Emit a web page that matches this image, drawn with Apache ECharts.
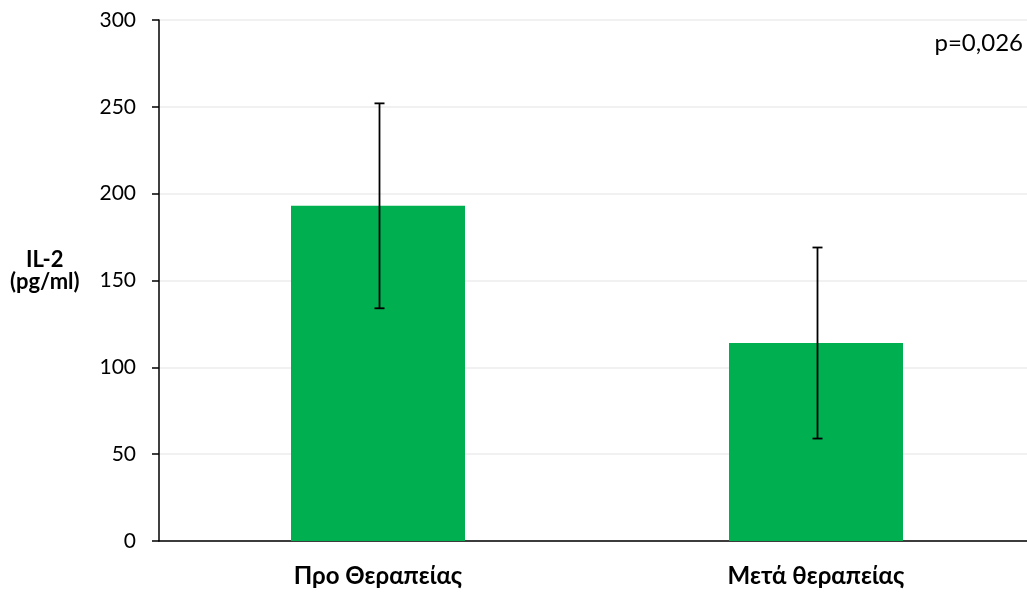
<!DOCTYPE html>
<html>
<head>
<meta charset="utf-8">
<script src="https://cdn.jsdelivr.net/npm/echarts@6/dist/echarts.min.js"></script>
<style>
  html, body { margin: 0; padding: 0; background: #ffffff; }
  #chart { width: 1027px; height: 594px; }
</style>
</head>
<body>
<div id="chart"></div>
<script>
// IL-2 levels before and after therapy (mean ± SD)
const categories = ['Προ Θεραπείας', 'Μετά θεραπείας'];
const meanValues = [193, 114];
const sdValues = [59, 55];
const yTicks = [0, 50, 100, 150, 200, 250, 300];

const FONT = "Lato, 'Noto Sans', 'DejaVu Sans', sans-serif";

const errorData = categories.map((c, i) => [i, meanValues[i] - sdValues[i], meanValues[i] + sdValues[i]]);

const chart = echarts.init(document.getElementById('chart'), null, { renderer: 'canvas' });

chart.setOption({
  animation: false,
  backgroundColor: '#ffffff',
  grid: {
    left: 159, width: 876, top: 20, bottom: 53,
    containLabel: false,
    outerBoundsMode: 'none'
  },
  xAxis: {
    type: 'category',
    data: categories,
    axisLine: { lineStyle: { color: '#000000', width: 1.5 } },
    axisTick: { show: false },
    axisLabel: {
      color: '#000000',
      fontFamily: FONT,
      fontWeight: 'bold',
      fontSize: 24,
      margin: 23
    }
  },
  yAxis: {
    type: 'value',
    min: yTicks[0],
    max: yTicks[yTicks.length - 1],
    interval: 50,
    axisLine: { show: true, lineStyle: { color: '#000000', width: 1.5 } },
    axisTick: { show: true, length: 7, lineStyle: { color: '#000000', width: 1.5 } },
    axisLabel: {
      color: '#000000',
      fontFamily: FONT,
      fontSize: 21,
      margin: 23
    },
    splitLine: { show: true, lineStyle: { color: '#ededed', width: 1.5 } }
  },
  graphic: [
    {
      type: 'text', left: 26, top: 249,
      style: { text: 'IL-2', fill: '#000000', font: 'bold 22px ' + FONT }
    },
    {
      type: 'text', left: 10, top: 271,
      style: { text: '(pg/ml)', fill: '#000000', font: 'bold 22px ' + FONT }
    },
    {
      type: 'text', right: 4, top: 31,
      style: { text: 'p=0,026', fill: '#000000', font: '24px ' + FONT }
    }
  ],
  series: [
    {
      type: 'bar',
      data: meanValues,
      barWidth: 174,
      itemStyle: { color: '#00B050' }
    },
    {
      type: 'custom',
      data: errorData,
      z: 10,
      renderItem: function (params, api) {
        const x = api.value(0);
        const lo = api.coord([x, api.value(1)]);
        const hi = api.coord([x, api.value(2)]);
        const cx = Math.round(lo[0]) + 1.5;
        const half = 5;
        const style = { stroke: '#000000', lineWidth: 1.8 };
        return {
          type: 'group',
          children: [
            { type: 'line', shape: { x1: cx, y1: hi[1], x2: cx, y2: lo[1] }, style: style },
            { type: 'line', shape: { x1: cx - half, y1: hi[1], x2: cx + half, y2: hi[1] }, style: style },
            { type: 'line', shape: { x1: cx - half, y1: lo[1], x2: cx + half, y2: lo[1] }, style: style }
          ]
        };
      }
    }
  ]
});
</script>
</body>
</html>
